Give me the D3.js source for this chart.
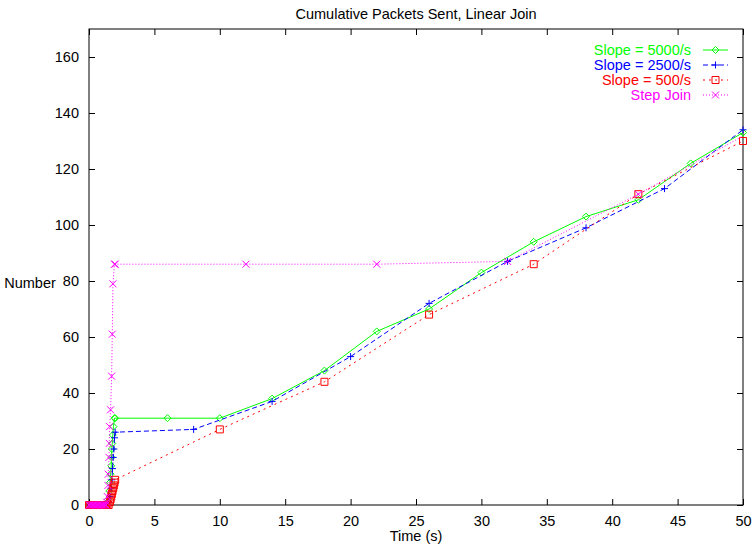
<!DOCTYPE html>
<html>
<head>
<meta charset="utf-8">
<script src="https://cdn.jsdelivr.net/npm/d3@7"></script>
<style>
  body { margin: 0; background: #fff; }
  svg { display: block; }
  text { font-family: "Liberation Sans", Arial, sans-serif; }
</style>
</head>
<body>
<svg id="chart" width="753" height="544"></svg>
<script>
// series data: [time (s), packets]
const zeroT = [0, 0.1, 0.2, 0.3, 0.4, 0.5, 0.6, 0.7, 0.8, 0.9, 1.0, 1.1, 1.2, 1.3];

const slope5000 = [
  ...zeroT.map(t => [t, 0]),
  [1.45, 2], [1.55, 5], [1.6, 8], [1.65, 11], [1.7, 14], [1.72, 17], [1.75, 20],
  [1.78, 22], [1.82, 25], [1.87, 28], [1.95, 31], [2, 31],
  [6, 31], [10, 31], [14, 38], [18, 48], [22, 62], [26, 70], [30, 83],
  [34, 94], [38, 103], [42, 109], [46, 122], [50, 133]
];
const slope2500 = [
  ...zeroT.map(t => [t, 0]),
  [1.5, 1], [1.6, 3], [1.7, 6], [1.75, 9], [1.8, 13], [1.85, 17], [1.9, 20],
  [1.95, 24], [2, 26],
  [8, 27], [14, 37], [20, 53], [26, 72], [32, 87], [38, 99], [44, 113], [50, 134]
];
const slope500 = [
  ...zeroT.map(t => [t, 0]), [1.4, 0], [1.5, 0],
  [1.6, 1], [1.65, 2], [1.7, 3], [1.75, 4], [1.8, 5], [1.85, 6], [1.9, 7],
  [1.95, 8], [2, 9],
  [10, 27], [18, 44], [26, 68], [34, 86], [42, 111], [50, 130]
];
const stepJoin = [
  ...zeroT.map(t => [t, 0]),
  [1.35, 1], [1.4, 3], [1.45, 7], [1.47, 11], [1.53, 17], [1.55, 22], [1.58, 28],
  [1.65, 34], [1.73, 46], [1.78, 61], [1.83, 79], [1.95, 86], [2, 86],
  [12, 86], [22, 86], [32, 87], [42, 111], [52, 137]
];

const seriesNames = ["Slope = 5000/s", "Slope = 2500/s", "Slope = 500/s", "Step Join"];
const seriesData = [slope5000, slope2500, slope500, stepJoin];
const seriesColors = ["#00ff00", "#0000ff", "#ff0000", "#ff00ff"];
const seriesDash = [null, "5,3", "2,4", "1,2"];
const seriesMarker = ["diamond", "plus", "square", "cross"];

const xTicks = [0, 5, 10, 15, 20, 25, 30, 35, 40, 45, 50];
const yTicks = [0, 20, 40, 60, 80, 100, 120, 140, 160];

const L = 89, R = 743, T = 29, B = 505;

const svg = d3.select("#chart");
const x = d3.scaleLinear().domain([0, 50]).range([L, R]);
const y = d3.scaleLinear().domain([0, 170]).range([B, T]);

svg.append("defs").append("clipPath").attr("id", "plotclip")
  .append("rect").attr("x", L).attr("y", T).attr("width", R - L).attr("height", B - T);

// title and labels
svg.append("text")
  .attr("x", (L + R) / 2).attr("y", 19)
  .attr("text-anchor", "middle")
  .style("font-size", "14.5px")
  .text("Cumulative Packets Sent, Linear Join");

svg.append("text")
  .attr("x", 30).attr("y", 288)
  .attr("text-anchor", "middle")
  .style("font-size", "14.5px")
  .text("Number");

svg.append("text")
  .attr("x", (L + R) / 2).attr("y", 541)
  .attr("text-anchor", "middle")
  .style("font-size", "14.5px")
  .text("Time (s)");

// axes, ticks pointing inward and mirrored
function styleAxis(g, showText) {
  g.select(".domain").remove();
  g.selectAll(".tick line").attr("stroke", "#000").attr("stroke-width", 1);
  g.selectAll(".tick text")
    .style("font-size", "14.5px")
    .style("font-family", "'Liberation Sans', Arial, sans-serif")
    .attr("fill", "#000");
  if (!showText) g.selectAll(".tick text").remove();
}

svg.append("g").attr("transform", `translate(0,${B})`)
  .call(d3.axisBottom(x).tickValues(xTicks).tickSize(-6).tickPadding(11).tickFormat(d3.format("d")))
  .call(g => styleAxis(g, true));
svg.append("g").attr("transform", `translate(0,${T})`)
  .call(d3.axisTop(x).tickValues(xTicks).tickSize(-6))
  .call(g => styleAxis(g, false));
svg.append("g").attr("transform", `translate(${L},0)`)
  .call(d3.axisLeft(y).tickValues(yTicks).tickSize(-6).tickPadding(10).tickFormat(d3.format("d")))
  .call(g => styleAxis(g, true));
svg.append("g").attr("transform", `translate(${R},0)`)
  .call(d3.axisRight(y).tickValues(yTicks).tickSize(-6))
  .call(g => styleAxis(g, false));

svg.append("rect")
  .attr("x", L).attr("y", T).attr("width", R - L).attr("height", B - T)
  .attr("fill", "none").attr("stroke", "#000").attr("stroke-width", 1);

// marker shapes, centred on 0,0
function markerPath(kind) {
  const s = 3.5;
  if (kind === "diamond") return `M0,${-s}L${s},0L0,${s}L${-s},0Z`;
  if (kind === "plus") return `M${-s},0H${s}M0,${-s}V${s}`;
  if (kind === "square") return `M${-s},${-s}H${s}V${s}H${-s}Z`;
  return `M${-s},${-s}L${s},${s}M${-s},${s}L${s},${-s}`;
}

const line = d3.line().x(d => x(d[0])).y(d => y(d[1]));

seriesData.forEach((data, i) => {
  const g = svg.append("g");
  g.append("path")
    .attr("clip-path", "url(#plotclip)")
    .attr("d", line(data))
    .attr("fill", "none")
    .attr("stroke", seriesColors[i])
    .attr("stroke-width", 1)
    .attr("stroke-dasharray", seriesDash[i]);
  g.selectAll("path.pt")
    .data(data.filter(d => d[0] <= 50))
    .join("path")
    .attr("class", "pt")
    .attr("transform", d => `translate(${x(d[0])},${y(d[1])})`)
    .attr("d", markerPath(seriesMarker[i]))
    .attr("fill", "none")
    .attr("stroke", seriesColors[i])
    .attr("stroke-width", 1);
});

// legend
const legRows = [50, 65, 80, 95];
seriesNames.forEach((name, i) => {
  const ly = legRows[i];
  svg.append("text")
    .attr("x", 691).attr("y", ly + 5)
    .attr("text-anchor", "end")
    .style("font-size", "14.5px")
    .attr("fill", seriesColors[i])
    .text(name);
  svg.append("line")
    .attr("x1", 703).attr("x2", 728).attr("y1", ly).attr("y2", ly)
    .attr("stroke", seriesColors[i]).attr("stroke-width", 1)
    .attr("stroke-dasharray", seriesDash[i]);
  svg.append("path")
    .attr("transform", `translate(715.5,${ly})`)
    .attr("d", markerPath(seriesMarker[i]))
    .attr("fill", "none").attr("stroke", seriesColors[i]).attr("stroke-width", 1);
});
</script>
</body>
</html>
